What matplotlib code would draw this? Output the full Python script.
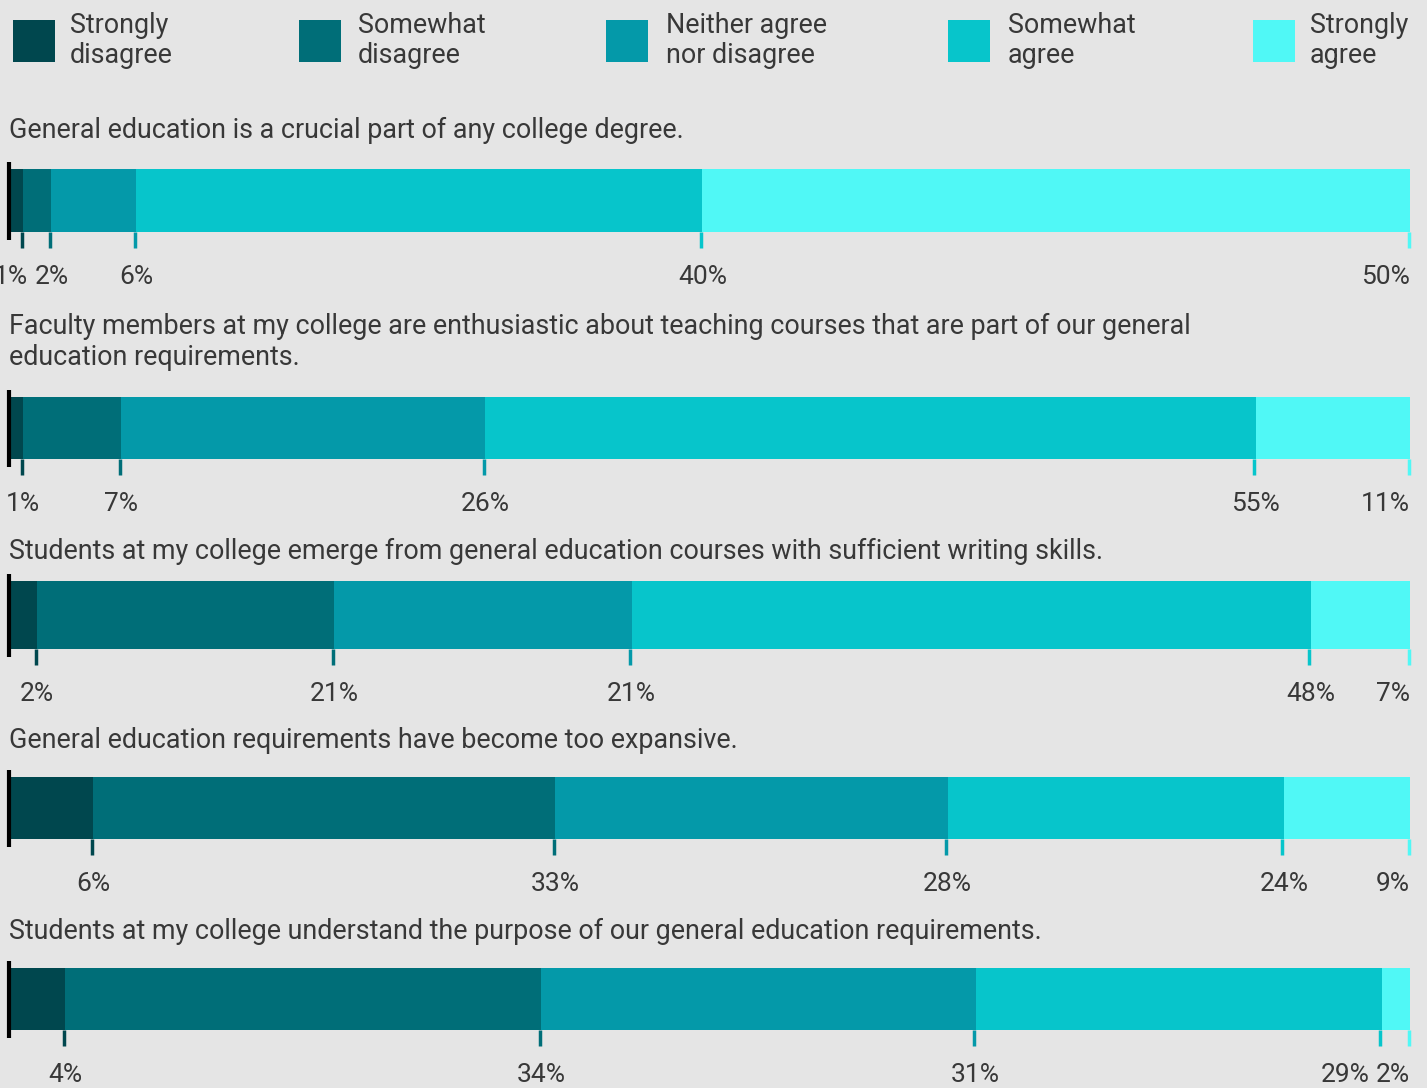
import matplotlib
matplotlib.use("Agg")
import matplotlib.pyplot as plt
import matplotlib.transforms as mtransforms
from matplotlib.patches import Rectangle

plt.rcParams['font.family'] = ['Roboto', 'DejaVu Sans']

# ---- data ----
categories = ["Strongly\ndisagree", "Somewhat\ndisagree", "Neither agree\nnor disagree",
              "Somewhat\nagree", "Strongly\nagree"]
colors = ["#00474e", "#006e78", "#0499a9", "#07c5cb", "#50f8f6"]
questions = [
    "General education is a crucial part of any college degree.",
    "Faculty members at my college are enthusiastic about teaching courses that are part of our general\neducation requirements.",
    "Students at my college emerge from general education courses with sufficient writing skills.",
    "General education requirements have become too expansive.",
    "Students at my college understand the purpose of our general education requirements.",
]
q1 = [1, 2, 6, 40, 50]
q2 = [1, 7, 26, 55, 11]
q3 = [2, 21, 21, 48, 7]
q4 = [6, 33, 28, 24, 9]
q5 = [4, 34, 31, 29, 2]
values = [q1, q2, q3, q4, q5]

# ---- layout (pixels) ----
W, H = 1427, 1088
BG = "#e5e5e5"
TXT = "#383838"
bar_left, bar_right = 9, 1410
bar_tops = [169, 397, 581, 777, 968]
bar_heights = [63, 62, 68, 62, 62]
title_baselines = [138, 334, 559, 748, 939]
legend_sq_x = [13, 299, 606, 948, 1253]
legend_txt_x = [70, 358, 666, 1008, 1310]
FS_TEXT = 19.4
FS_LABEL = 19
LINE_GAP = 31

fig = plt.figure(figsize=(W / 100, H / 100), dpi=100, facecolor=BG)

def fx(px):
    return px / W

def fy(py):
    return 1 - py / H

# legend
for i, cat in enumerate(categories):
    fig.patches.append(Rectangle((fx(legend_sq_x[i]), fy(62)), 42 / W, 42 / H,
                                 transform=fig.transFigure, facecolor=colors[i],
                                 edgecolor='none'))
    for k, line in enumerate(cat.split("\n")):
        fig.text(fx(legend_txt_x[i]), fy(33 + 30 * k), line, fontsize=FS_TEXT, color=TXT,
                 ha='left', va='baseline')

renderer = fig.canvas.get_renderer()
PAD_TOP = 12
for i, (q, vals) in enumerate(zip(questions, values)):
    top = bar_tops[i]
    h = bar_heights[i]
    ax_top = top - PAD_TOP
    ax_h = PAD_TOP + h + 70
    ax = fig.add_axes([fx(bar_left), fy(ax_top + ax_h), (bar_right - bar_left) / W, ax_h / H])
    ax.set_axis_off()
    total = sum(vals)
    ax.set_xlim(0, total)
    ax.set_ylim(ax_h, 0)
    left = 0
    ends = []
    for v, c in zip(vals, colors):
        ax.barh(PAD_TOP, v, left=left, height=h, align='edge', color=c, linewidth=0)
        left += v
        ends.append(left)
    # tick marks (sit just left of each segment's end)
    tick_tr = mtransforms.offset_copy(ax.transData, fig=fig, x=-1.5, y=0, units='dots')
    ax.vlines(ends, PAD_TOP + h, PAD_TOP + h + 16, colors=colors, linewidth=2.5,
              clip_on=False, transform=tick_tr)
    # black axis line
    ax.vlines(0, PAD_TOP - 7, PAD_TOP + h + 8, colors='black', linewidth=3, clip_on=False)
    # value labels, shifted left when they would collide
    texts = []
    for j, (e, v) in enumerate(zip(ends, vals)):
        ha = 'right' if j == len(vals) - 1 else 'center'
        t = ax.text(e, PAD_TOP + h + 52, f"{v}%", ha=ha, va='baseline', fontsize=FS_LABEL,
                    color=TXT, clip_on=False)
        texts.append(t)
    px_per_unit = (bar_right - bar_left) / total
    prev_left = None
    for t in reversed(texts):
        bb = t.get_window_extent(renderer)
        if prev_left is not None and bb.x1 > prev_left - 6:
            shift = (bb.x1 - (prev_left - 6)) / px_per_unit
            x, y = t.get_position()
            t.set_position((x - shift, y))
            bb = t.get_window_extent(renderer)
        prev_left = bb.x0
    # title
    lines = q.split("\n")
    for k, line in enumerate(lines):
        fig.text(fx(9), fy(title_baselines[i] + LINE_GAP * k), line, fontsize=FS_TEXT,
                 color=TXT, ha='left', va='baseline')

fig.savefig("out.png", dpi=100, facecolor=BG)
